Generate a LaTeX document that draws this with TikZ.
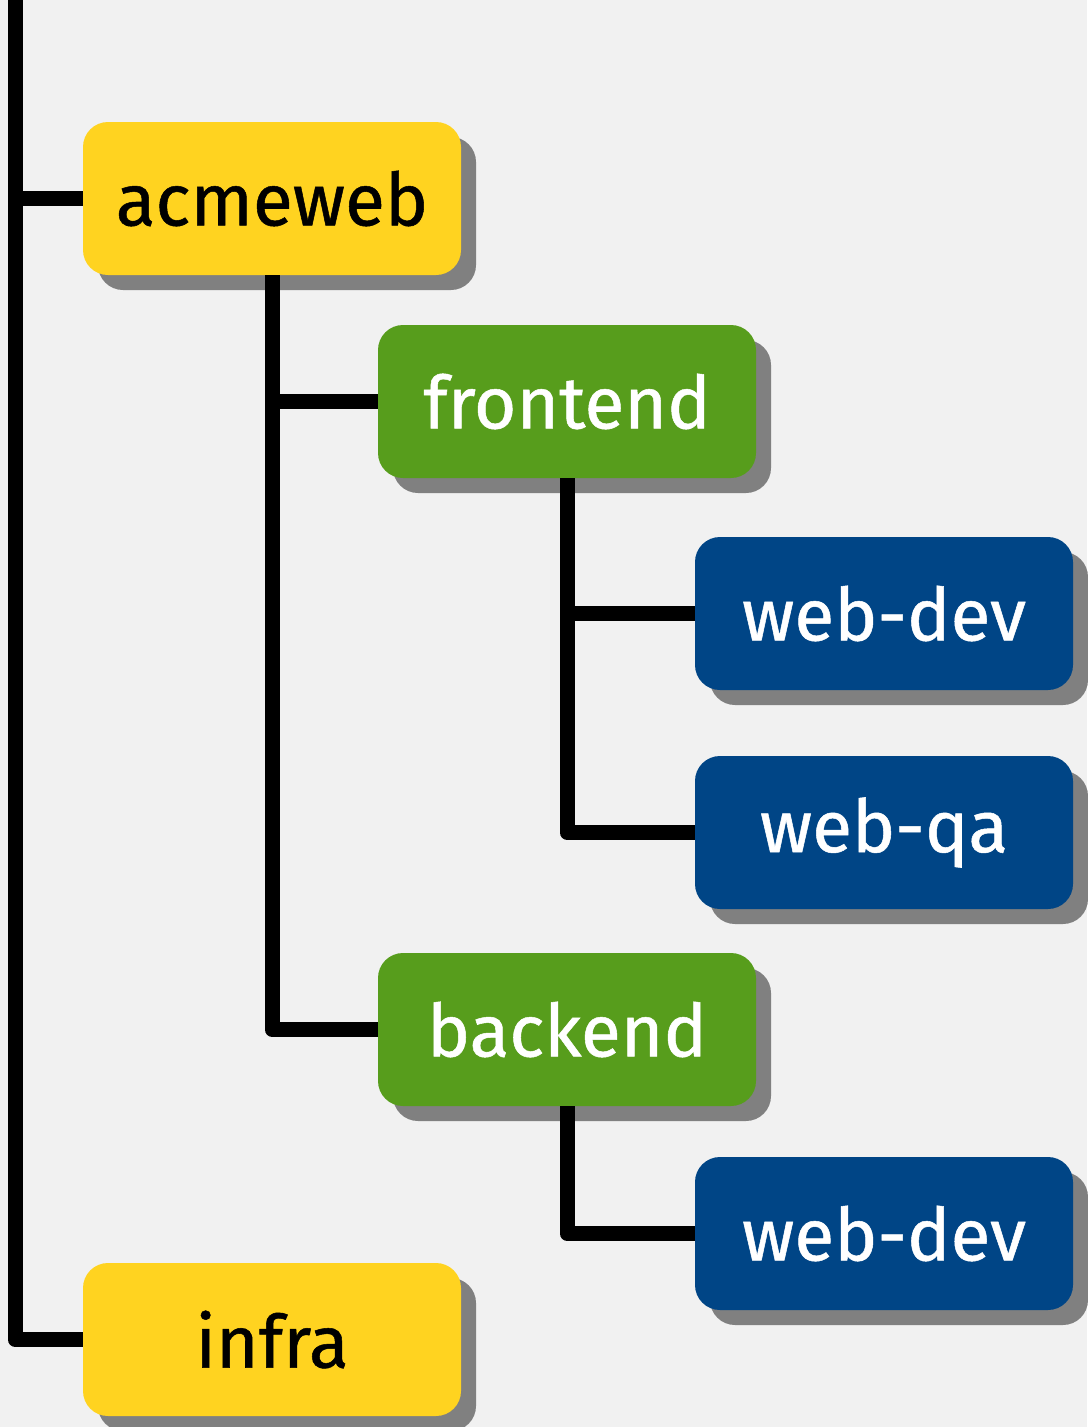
\documentclass[tikz,border=0pt]{standalone}
\usepackage{fontspec}
\setmainfont{Fira Sans}[FakeBold=0.7]
\usetikzlibrary{shadows}
\definecolor{bg}{HTML}{F1F1F1}
\definecolor{boxyellow}{HTML}{FFD320}
\definecolor{boxgreen}{HTML}{579D1C}
\definecolor{boxblue}{HTML}{004586}
\definecolor{shadowgray}{HTML}{808080}
\tikzset{
  treebox/.style={rectangle, rounded corners=25pt, minimum width=378pt,
    minimum height=153pt, inner sep=0pt,
    font=\fontsize{73}{80}\selectfont,
    drop shadow={shadow xshift=15pt, shadow yshift=-15pt, fill=shadowgray, opacity=1}},
  lvl1/.style={treebox, fill=boxyellow, text=black},
  lvl2/.style={treebox, fill=boxgreen, text=white},
  lvl3/.style={treebox, fill=boxblue, text=white},
  conn/.style={draw=black, line width=15pt, line join=round}
}
\begin{document}
\begin{tikzpicture}[x=1pt, y=-1pt]
  % canvas
  \fill[bg] (0,0) rectangle (1087,1427);
  \useasboundingbox (0,0) rectangle (1087,1427);

  % nodes
  \node[lvl1] (acmeweb)  at (272,198.5)  {acmeweb};
  \node[lvl2] (frontend) at (567,401.5)  {frontend};
  \node[lvl3] (webdevA)  at (884,613.5)  {web-dev};
  \node[lvl3] (webqa)    at (884,832.5)  {web-qa};
  \node[lvl2] (backend)  at (567,1029.5) {backend};
  \node[lvl3] (webdevB)  at (884,1233.5) {web-dev};
  \node[lvl1] (infra)    at (272,1339.5) {infra};

  \coordinate (root) at (15,0);

  % connectors
  \draw[conn] (root) |- (infra.west);
  \draw[conn] (root |- acmeweb.west) -- (acmeweb.west);

  \draw[conn] (acmeweb.south) |- (backend.west);
  \draw[conn] (acmeweb.south |- frontend.west) -- (frontend.west);

  \draw[conn] (frontend.south) |- (webqa.west);
  \draw[conn] (frontend.south |- webdevA.west) -- (webdevA.west);

  \draw[conn] (backend.south) |- (webdevB.west);
\end{tikzpicture}
\end{document}
